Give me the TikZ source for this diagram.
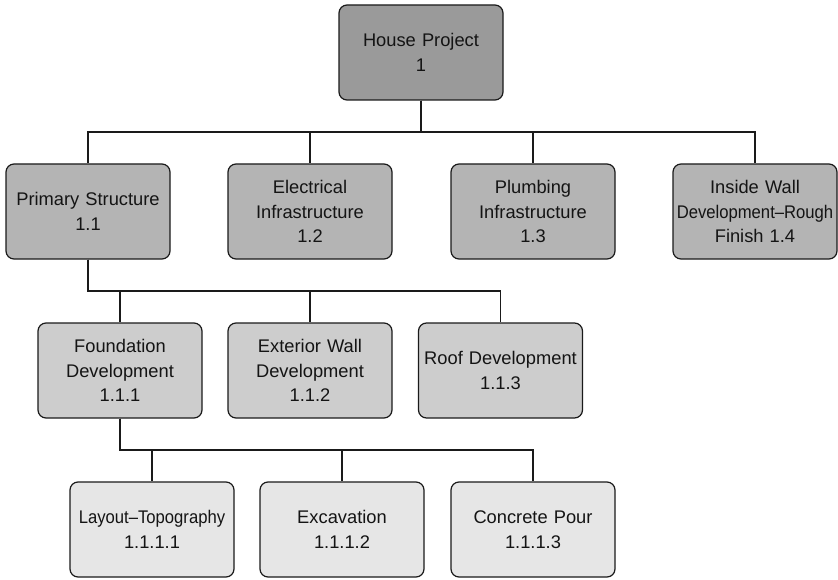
\documentclass[tikz,border=0pt]{standalone}
\usepackage{fontspec}
\setmainfont{Liberation Sans}
\usetikzlibrary{calc}

\definecolor{lvlA}{HTML}{9A9A9A}
\definecolor{lvlB}{HTML}{B4B4B4}
\definecolor{lvlC}{HTML}{CDCDCD}
\definecolor{lvlD}{HTML}{E6E6E6}
\definecolor{edgecol}{HTML}{1A1A1A}

\tikzset{
  wbs/.style={draw=edgecol, line width=1.2pt, rounded corners=8pt,
    minimum width=164pt, minimum height=95pt, inner sep=0pt,
    text width=164pt, align=center, text=black!92,
    font=\fontsize{18.3}{24.5}\selectfont},
  lvla/.style={wbs, fill=lvlA},
  lvlb/.style={wbs, fill=lvlB},
  lvlc/.style={wbs, fill=lvlC},
  lvld/.style={wbs, fill=lvlD},
  conn/.style={draw=edgecol, line width=1.3pt},
}
\newcommand{\squeeze}[1]{\scalebox{0.91}[1]{#1}}
% parent-to-child elbow connector through the midway bar
\newcommand{\wbsedge}[2]{\draw[conn] (#1.south) |- ($(#1.south)!.5!(#2.north)$) -| (#2.north);}

\begin{document}
\begin{tikzpicture}[x=1pt, y=-1pt]
\useasboundingbox (0,0) rectangle (838,580);

% level 0
\node[lvla] (root) at (421,52.5) {House Project\\1};

% level 1
\node[lvlb] (ps)  at (88,211.5)  {Primary Structure\\1.1};
\node[lvlb] (ei)  at (310,211.5) {Electrical\\Infrastructure\\1.2};
\node[lvlb] (pi)  at (533,211.5) {Plumbing\\Infrastructure\\1.3};
\node[lvlb] (iw)  at (755,211.5) {Inside Wall\\\squeeze{Development--Rough}\\Finish 1.4};

% level 2
\node[lvlc] (fd)  at (120,370.5) {Foundation\\Development\\1.1.1};
\node[lvlc] (ew)  at (310,370.5) {Exterior Wall\\Development\\1.1.2};
\node[lvlc] (rd)  at (500.5,370.5) {\raisebox{-5pt}{\parbox{164pt}{\centering Roof Development\\1.1.3}}};

% level 3
\node[lvld] (lt)  at (152,529.5) {\squeeze{Layout--Topography}\\1.1.1.1};
\node[lvld] (ex)  at (342,529.5) {Excavation\\1.1.1.2};
\node[lvld] (cp)  at (533,529.5) {Concrete Pour\\1.1.1.3};

% connectors
\foreach \c in {ps,ei,pi,iw} {\wbsedge{root}{\c}}
\foreach \c in {fd,ew,rd} {\wbsedge{ps}{\c}}
\foreach \c in {lt,ex,cp} {\wbsedge{fd}{\c}}

% heavier stems below each parent
\draw[conn, line width=1.7pt] (root.south) -- ($(root.south)!.5!(ps.north -| root.south)$);
\draw[conn, line width=1.7pt] (ps.south) -- ($(ps.south)!.5!(fd.north -| ps.south)$);
\draw[conn, line width=1.7pt] (fd.south) -- ($(fd.south)!.5!(lt.north -| fd.south)$);
\end{tikzpicture}
\end{document}
